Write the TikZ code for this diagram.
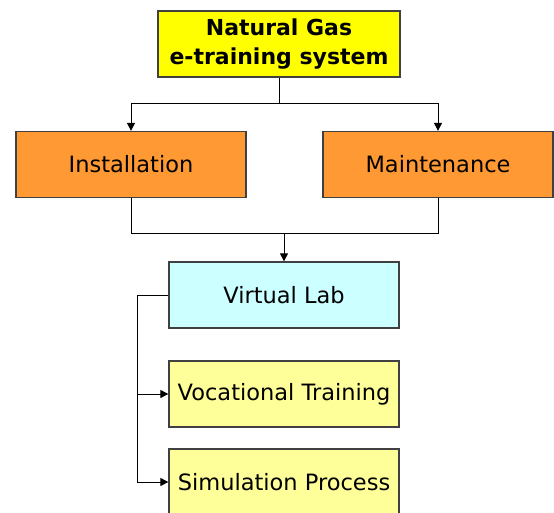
\documentclass[tikz,border=0pt]{standalone}
\usepackage{fontspec}
\setmainfont{DejaVu Sans}
\usetikzlibrary{arrows.meta}
\definecolor{topy}{HTML}{FFFF00}
\definecolor{orng}{HTML}{FF9933}
\definecolor{cyn}{HTML}{CCFFFF}
\definecolor{ltyel}{HTML}{FFFF99}
\definecolor{bord}{HTML}{404040}
\begin{document}
\begin{tikzpicture}[x=1pt,y=-1pt,
  box/.style={draw=bord,line width=1.3pt,minimum height=66pt,inner sep=0pt,font=\fontsize{22.5}{27}\selectfont},
  conn/.style={draw=black,line width=1pt},
  arr/.style={conn,-{Triangle[length=8pt,width=8pt]}}]
\useasboundingbox (0,0) rectangle (554,512);
\clip (0,0) rectangle (554,512);
\node[box,fill=topy,minimum width=242pt,align=center,font=\fontsize{22}{29}\selectfont\bfseries] (top) at (279,44) {Natural Gas\\e-training system};
\node[box,fill=orng,minimum width=230pt] (inst) at (131,164.5) {Installation};
\node[box,fill=orng,minimum width=230pt] (maint) at (438,164.5) {Maintenance};
\node[box,fill=cyn,minimum width=230pt] (vl) at (284,295) {Virtual Lab};
\node[box,fill=ltyel,minimum width=230pt] (voc) at (284,394) {Vocational Training};
\node[box,fill=ltyel,minimum width=230pt] (sim) at (284,482) {Simulation Process};
\coordinate (split) at (279,103);
\coordinate (join) at (284,233);
\coordinate (rail) at (137,295);
\draw[conn] (top.south) -- (split);
\draw[arr] (split) -| (inst.north);
\draw[arr] (split) -| (maint.north);
\draw[conn] (inst.south) |- (join);
\draw[conn] (maint.south) |- (join);
\draw[arr] (join) -- (vl.north);
\draw[conn] (vl.west) -- (rail);
\draw[arr] (rail) |- (voc.west);
\draw[arr] (rail) |- (sim.west);
\end{tikzpicture}
\end{document}
